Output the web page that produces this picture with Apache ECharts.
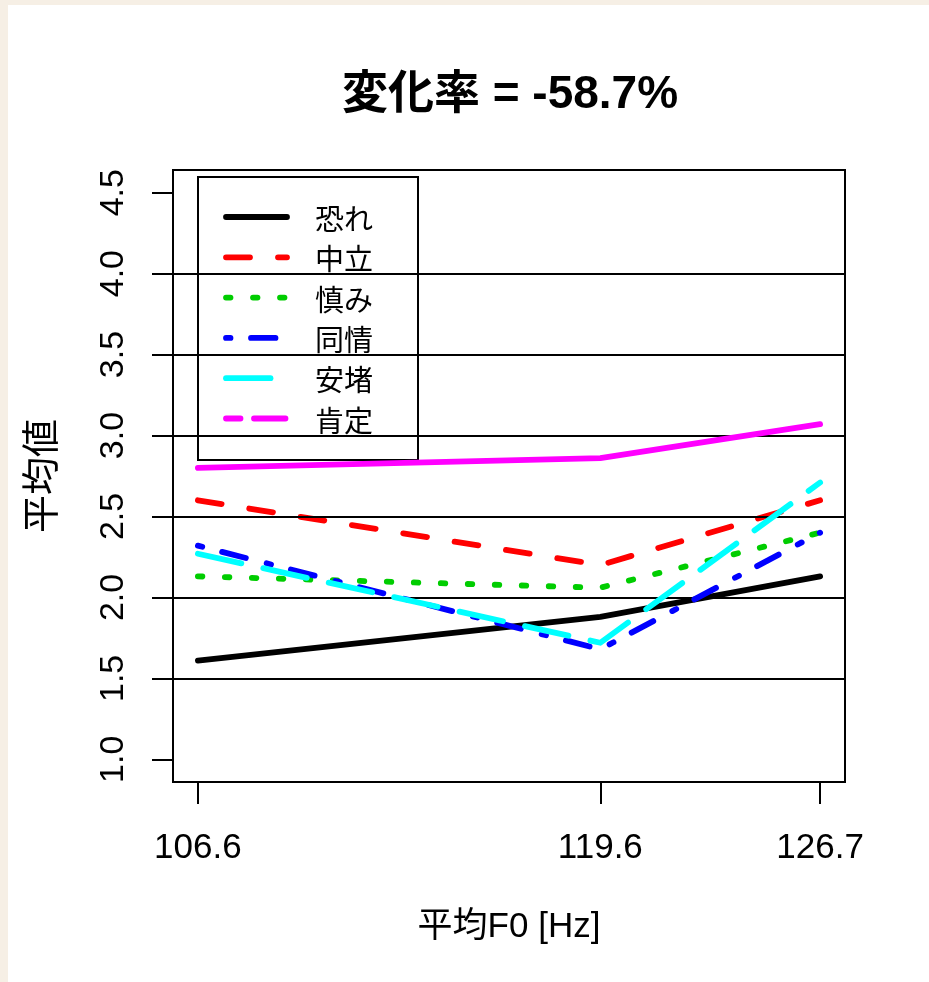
<!DOCTYPE html>
<html>
<head>
<meta charset="utf-8">
<script src="https://cdn.jsdelivr.net/npm/echarts@6/dist/echarts.min.js"></script>
<style>
html,body{margin:0;padding:0;width:929px;height:982px;background:#f6efe5;overflow:hidden;}
#paper{position:absolute;left:8px;top:5px;width:921px;height:977px;background:#ffffff;}
#chart{position:absolute;left:0;top:0;width:929px;height:982px;}
</style>
</head>
<body>
<div id="paper"></div>
<div id="chart"></div>
<script>
// ---- data ----
const titleText = '変化率 = -58.7%';
const xAxisName = '平均F0 [Hz]';
const yAxisName = '平均値';
const xValues = [106.6, 119.6, 126.7];
const xTicks = [106.6, 119.6, 126.7];
const yTicks = [1.0, 1.5, 2.0, 2.5, 3.0, 3.5, 4.0, 4.5];
const gridLevels = [1.5, 2.0, 2.5, 3.0, 3.5, 4.0];
const seriesNames = ['恐れ', '中立', '慎み', '同情', '安堵', '肯定'];
const fear      = [1.61, 1.88, 2.13];
const neutral   = [2.60, 2.20, 2.60];
const modesty   = [2.13, 2.06, 2.40];
const sympathy  = [2.32, 1.68, 2.40];
const relief    = [2.27, 1.72, 2.71];
const affirm    = [2.80, 2.86, 3.07];
const seriesValues = [fear, neutral, modesty, sympathy, relief, affirm];

// ---- styles ----
const colors = ['#000000', '#ff0000', '#00cd00', '#0000ff', '#00ffff', '#ff00ff'];
const dashes = ['solid', [24, 28], [4.5, 22.5], [4.5, 20.5, 24.5, 21.5], [44.5, 22.5], 'solid'];
const legendDashes = [null, [24, 28], [4.5, 22.5], [4.5, 20.5, 24.5, 21.5], [44.5, 22.5], [14.5, 13.5, 31.5, 13.5]];
const LW = 5.8;
const latin = '"Liberation Sans", Arial, "Noto Sans CJK JP", sans-serif';

const xMin = 106.6 - (126.7 - 106.6) * 0.04;
const xMax = 126.7 + (126.7 - 106.6) * 0.04;
const yMin = 1.0 - (4.5 - 1.0) * 0.04;
const yMax = 4.5 + (4.5 - 1.0) * 0.04;

const chart = echarts.init(document.getElementById('chart'), null, {renderer: 'canvas'});

const series = [{
  type: 'line', data: [], silent: true, z: 1,
  markLine: {
    silent: true, symbol: ['none', 'none'], animation: false,
    label: {show: false},
    lineStyle: {color: '#000', width: 2, type: 'solid'},
    emphasis: {disabled: true},
    data: gridLevels.map(v => ({yAxis: v}))
  }
}];
seriesNames.forEach((name, i) => {
  series.push({
    name: name, type: 'line', z: 2 + i,
    data: xValues.map((x, j) => [x, seriesValues[i][j]]),
    symbol: 'none', smooth: false, animation: false,
    lineStyle: {color: colors[i], width: LW, type: dashes[i], cap: 'round', join: 'round'}
  });
});

// legend built from the names
const legendTop = 217, legendStep = 40.3;
const legendChildren = [{
  type: 'rect', shape: {x: 198, y: 177, width: 220, height: 283},
  style: {fill: '#fff', stroke: '#000', lineWidth: 2}
}];
seriesNames.forEach((name, i) => {
  const y = legendTop + legendStep * i;
  legendChildren.push({
    type: 'line', shape: {x1: 226, y1: y, x2: 287, y2: y},
    style: {stroke: colors[i], lineWidth: LW, lineDash: legendDashes[i], lineCap: 'round'}
  });
  legendChildren.push({
    type: 'text', x: 315, y: y + 2,
    style: {text: name, font: '29px "Noto Sans CJK JP", sans-serif', fill: '#000', textAlign: 'left', textVerticalAlign: 'middle'}
  });
});

chart.setOption({
  backgroundColor: 'transparent',
  animation: false,
  grid: {left: 173, right: 84, top: 170, bottom: 200, show: true, borderColor: '#000', borderWidth: 2, backgroundColor: 'transparent'},
  xAxis: {
    type: 'value', min: xMin, max: xMax,
    name: xAxisName, nameLocation: 'middle', nameGap: 128,
    nameTextStyle: {fontSize: 35, color: '#000', fontFamily: latin, verticalAlign: 'top'},
    axisLine: {show: false},
    axisTick: {show: true, inside: false, length: 22, customValues: xTicks, lineStyle: {color: '#000', width: 2}},
    axisLabel: {customValues: xTicks, formatter: v => v.toFixed(1), fontSize: 35, color: '#000', fontFamily: latin, margin: 49},
    splitLine: {show: false}
  },
  yAxis: {
    type: 'value', min: yMin, max: yMax,
    name: yAxisName, nameLocation: 'middle', nameGap: 114, nameRotate: 90,
    nameTextStyle: {fontSize: 38, color: '#000', fontFamily: '"Noto Sans CJK JP", sans-serif'},
    axisLine: {show: false},
    axisTick: {show: true, inside: false, length: 21, customValues: yTicks, lineStyle: {color: '#000', width: 2}},
    axisLabel: {customValues: yTicks, formatter: v => v.toFixed(1), fontSize: 34, color: '#000', fontFamily: latin, margin: 42, rotate: 90},
    splitLine: {show: false}
  },
  graphic: [
    {type: 'text', x: 510, y: 95, z: 100,
     style: {text: titleText, font: 'bold 46px "Liberation Sans", Arial, "Noto Sans CJK JP", sans-serif', fill: '#000', textAlign: 'center', textVerticalAlign: 'middle'}},
    {type: 'group', z: 100, children: legendChildren}
  ],
  series: series
});
</script>
</body>
</html>
